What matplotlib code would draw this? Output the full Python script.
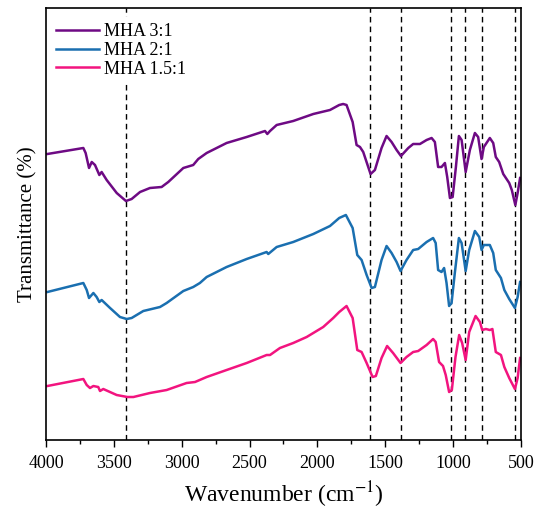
import numpy as np
import matplotlib
matplotlib.use("Agg")
import matplotlib.pyplot as plt
from matplotlib.ticker import MultipleLocator

# ---- data (transmittance in arbitrary offset units) ----
wn_31 = [3990, 3725, 3708, 3683, 3663, 3639, 3607, 3590, 3553, 3479, 3411, 3369, 3307,
         3234, 3148, 3099, 2988, 2915, 2878, 2816, 2669, 2521, 2386, 2369, 2349, 2300,
         2178, 2030, 1907, 1839, 1810, 1785, 1740, 1711, 1686, 1662, 1608, 1576, 1527,
         1490, 1453, 1416, 1384, 1330, 1294, 1244, 1195, 1158, 1134, 1110, 1085, 1060,
         1043, 1023, 1003, 979, 957, 937, 907, 876, 839, 815, 790, 773, 729, 704, 685,
         660, 630, 586, 567, 541, 524, 506]
t_31 = [286, 292, 287, 272, 278, 275, 265, 268, 260, 247, 239, 241, 248,
        252, 253, 258, 272, 275, 281, 287, 297, 303, 309, 306, 309, 315,
        319, 326, 330, 335, 336, 335, 318, 295, 293, 288, 266, 270, 292,
        304, 298, 290, 284, 292, 296, 296, 300, 302, 298, 273, 273, 277,
        263, 242, 243, 273, 304, 300, 268, 290, 307, 303, 281, 293, 302, 297, 283,
        278, 266, 257, 250, 235, 247, 262]

wn_21 = [3990, 3725, 3700, 3683, 3651, 3627, 3607, 3590, 3528, 3455, 3405, 3369, 3283,
         3160, 3111, 2988, 2915, 2866, 2816, 2669, 2521, 2374, 2362, 2300, 2178, 2030,
         1907, 1839, 1790, 1740, 1706, 1674, 1637, 1600, 1576, 1527, 1490, 1453, 1416,
         1387, 1343, 1294, 1257, 1195, 1147, 1128, 1110, 1085, 1066, 1048, 1029, 1011,
         987, 957, 937, 907, 881, 839, 807, 790, 773, 729, 704, 685, 647, 622, 586,
         544, 524, 506]
t_21 = [148, 157, 150, 142, 147, 143, 138, 140, 132, 123, 121, 122, 129,
        133, 137, 149, 153, 157, 163, 173, 181, 188, 186, 193, 198, 206,
        214, 222, 225, 212, 185, 180, 165, 152, 153, 180, 194, 187, 178,
        169, 180, 190, 191, 198, 202, 197, 170, 168, 172, 157, 134, 137,
        167, 202, 197, 169, 190, 209, 203, 190, 195, 195, 187, 170, 162, 150, 141,
        132, 143, 158]

wn_151 = [3990, 3725, 3700, 3676, 3651, 3615, 3602, 3578, 3479, 3400, 3356, 3234, 3111,
          2964, 2902, 2816, 2669, 2521, 2374, 2349, 2276, 2178, 2079, 1957, 1883, 1839,
          1785, 1740, 1706, 1674, 1637, 1593, 1569, 1527, 1486, 1442, 1387, 1343, 1294,
          1257, 1195, 1147, 1128, 1103, 1074, 1054, 1029, 1009, 982, 955, 933, 907, 881,
          834, 802, 785, 758, 729, 710, 685, 647, 622, 586, 544, 524, 506]
t_151 = [54, 61, 55, 52, 54, 53, 49, 51, 45, 43, 43, 47, 50,
         57, 58, 63, 70, 77, 85, 85, 92, 97, 103, 113, 122, 128,
         134, 122, 90, 88, 77, 63, 64, 82, 94, 87, 77, 83, 88,
         89, 95, 101, 98, 78, 74, 65, 48, 50, 83, 105, 97, 80, 108,
         124, 118, 110, 111, 110, 111, 88, 85, 73, 62, 51, 62, 82]

labels = ["MHA 3:1", "MHA 2:1", "MHA 1.5:1"]
colors = ["#6E0A84", "#1A6FB0", "#F2147F"]
peaks = [3410, 1610, 1385, 1015, 910, 785, 545]

plt.rcParams["font.family"] = ["Liberation Serif", "DejaVu Serif"]
plt.rcParams["mathtext.fontset"] = "stix"

fig = plt.figure(figsize=(5.37, 5.12), dpi=100)
ax = fig.add_axes([0.0857, 0.1406, 0.8843, 0.8438])

for wn, t, lab, c in zip([wn_31, wn_21, wn_151], [t_31, t_21, t_151], labels, colors):
    ax.plot(wn, t, color=c, lw=1.8, label=lab, solid_joinstyle="round")

for p in peaks:
    ax.axvline(p, color="black", lw=1.0, ls=(0, (4, 3)), zorder=0)

ax.set_xlim(4000, 500)
ax.set_ylim(0, 432)
ax.set_yticks([])
ax.xaxis.set_major_locator(MultipleLocator(500))
ax.xaxis.set_minor_locator(MultipleLocator(250))
ax.tick_params(axis="x", which="major", direction="out", length=5, width=1,
               labelsize=13, pad=6)
ax.tick_params(axis="x", which="minor", direction="out", length=3, width=1)
for s in ax.spines.values():
    s.set_linewidth(1.2)

ax.set_xlabel("Wavenumber (cm$^{-1}$)", fontsize=17, labelpad=5)
ax.set_ylabel("Transmittance (%)", fontsize=15, labelpad=6)

# white box behind the legend hides the top of the dashed guide lines
leg = ax.legend(loc="upper left", frameon=True, fontsize=13, handlelength=2.4,
                handletextpad=0.28, labelspacing=0.1, borderpad=0.35,
                borderaxespad=0.2, bbox_to_anchor=(0.0, 0.988),
                fancybox=False, framealpha=1)
leg.get_frame().set_facecolor("white")
leg.get_frame().set_edgecolor("none")

fig.savefig("out.png", dpi=100)
